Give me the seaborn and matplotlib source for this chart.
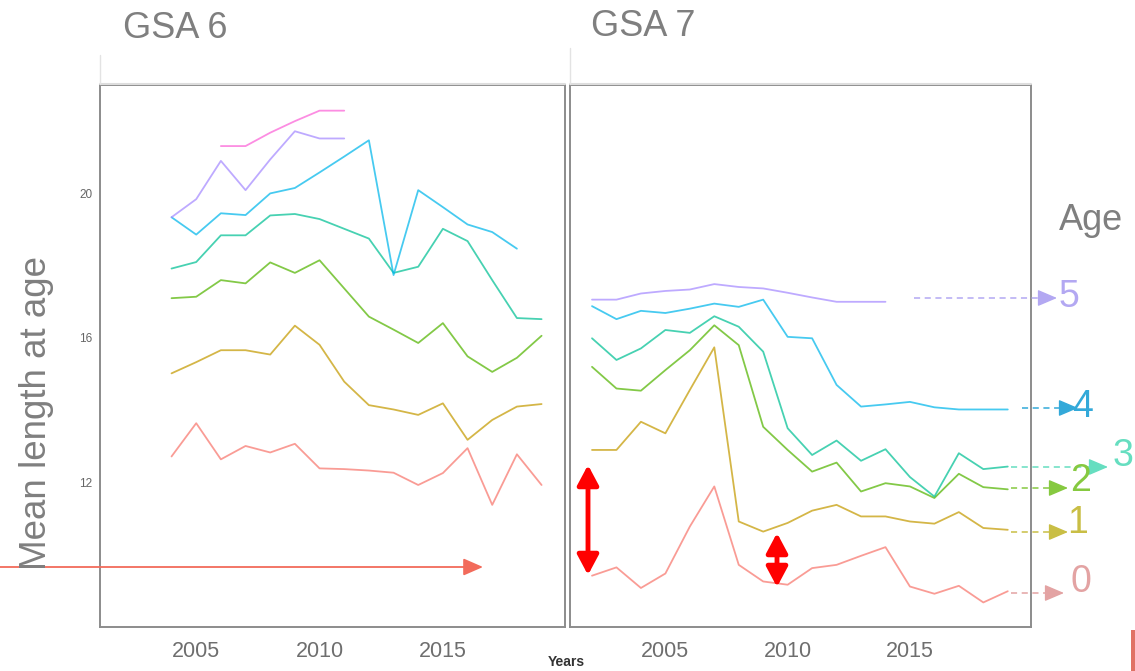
import numpy as np
import pandas as pd
import matplotlib
matplotlib.use("Agg")
import matplotlib.pyplot as plt
import seaborn as sns
from matplotlib.patches import FancyArrowPatch, Rectangle

# mean length at age
years_gsa6 = [2004, 2005, 2006, 2007, 2008, 2009, 2010, 2011,
              2012, 2013, 2014, 2015, 2016, 2017, 2018, 2019]
gsa6_age0 = [12.72, 13.64, 12.64, 13.01, 12.83, 13.07, 12.39, 12.37,
             12.33, 12.27, 11.93, 12.26, 12.95, 11.38, 12.78, 11.93]
gsa6_age1 = [15.02, 15.33, 15.66, 15.66, 15.54, 16.34, 15.81, 14.79,
             14.14, 14.02, 13.87, 14.19, 13.18, 13.73, 14.10, 14.17]
gsa6_age2 = [17.10, 17.14, 17.60, 17.51, 18.09, 17.80, 18.15, 17.37,
             16.59, 16.23, 15.86, 16.41, 15.49, 15.06, 15.45, 16.06]
gsa6_age3 = [17.92, 18.10, 18.84, 18.84, 19.39, 19.43, 19.29, 19.02,
             18.75, 17.80, 17.97, 19.02, 18.68, 17.60, 16.55, 16.52]
gsa6_age4 = [19.34, 18.86, 19.45, 19.40, 20.00, 20.15, 20.58, 21.02,
             21.47, 17.74, 20.09, 19.62, 19.14, 18.93, 18.47, None]
gsa6_age5 = [19.34, 19.84, 20.90, 20.09, 20.94, 21.72, 21.52, 21.52,
             None, None, None, None, None, None, None, None]
gsa6_age6 = [None, None, 21.31, 21.31, 21.68, 22.00, 22.29, 22.29,
             None, None, None, None, None, None, None, None]

years_gsa7 = [2002, 2003, 2004, 2005, 2006, 2007, 2008, 2009, 2010,
              2011, 2012, 2013, 2014, 2015, 2016, 2017, 2018, 2019]
gsa7_age0 = [9.42, 9.65, 9.08, 9.48, 10.78, 11.89, 9.72, 9.26, 9.17,
             9.63, 9.72, 9.97, 10.21, 9.12, 8.92, 9.14, 8.68, 8.99]
gsa7_age1 = [12.90, 12.90, 13.68, 13.36, 14.56, 15.74, 10.92, 10.64, 10.88,
             11.22, 11.38, 11.06, 11.06, 10.92, 10.86, 11.18, 10.74, 10.69]
gsa7_age2 = [15.20, 14.60, 14.54, 15.11, 15.66, 16.35, 15.80, 13.54, 12.90,
             12.30, 12.55, 11.75, 11.98, 11.89, 11.57, 12.24, 11.87, 11.81]
gsa7_age3 = [15.99, 15.39, 15.71, 16.22, 16.14, 16.60, 16.31, 15.62, 13.50,
             12.76, 13.16, 12.60, 12.92, 12.15, 11.61, 12.81, 12.37, 12.44]
gsa7_age4 = [16.88, 16.52, 16.75, 16.69, 16.81, 16.95, 16.86, 17.06, 16.03,
             15.99, 14.70, 14.10, 14.16, 14.23, 14.08, 14.02, 14.02, 14.02]
gsa7_age5 = [17.06, 17.06, 17.23, 17.30, 17.34, 17.49, 17.41, 17.37, 17.25,
             17.12, 17.00, 17.00, 17.00, None, None, None, None, None]

ages = ["0", "1", "2", "3", "4", "5", "6"]
age_colors = ["#F8766D", "#C49A00", "#53B400", "#00C094", "#00B6EB", "#A58AFF", "#FB61D7"]
label_ages = ["5", "4", "3", "2", "1", "0"]
label_colors = ["#B3A8F2", "#33A9D9", "#66DEC0", "#86C940", "#C9BE45", "#E3A3A3"]


def make_df(years, series):
    rows = []
    for age, vals in series.items():
        for y, v in zip(years, vals):
            if v is not None:
                rows.append({"Year": y, "Length": v, "Age": age})
    return pd.DataFrame(rows)


df6 = make_df(years_gsa6, {"0": gsa6_age0, "1": gsa6_age1, "2": gsa6_age2, "3": gsa6_age3,
                           "4": gsa6_age4, "5": gsa6_age5, "6": gsa6_age6})
df7 = make_df(years_gsa7, {"0": gsa7_age0, "1": gsa7_age1, "2": gsa7_age2, "3": gsa7_age3,
                           "4": gsa7_age4, "5": gsa7_age5})

sns.set_style("white")
plt.rcParams["font.family"] = ["Liberation Sans", "DejaVu Sans"]
pal = dict(zip(ages, age_colors))

fig = plt.figure(figsize=(11.35, 6.71), dpi=100)
ax6 = fig.add_axes([100 / 1135, 1 - 627 / 671, 465 / 1135, 542 / 671])
ax7 = fig.add_axes([570 / 1135, 1 - 627 / 671, 461 / 1135, 542 / 671])

for ax, df in [(ax6, df6), (ax7, df7)]:
    sns.lineplot(data=df, x="Year", y="Length", hue="Age", hue_order=ages,
                 palette=pal, errorbar=None, legend=False, lw=1.3, alpha=0.72, ax=ax)
    ax.set_xlim(2001.1, 2019.95)
    ax.set_ylim(8.0, 23.0)
    ax.set_xlabel("")
    ax.set_ylabel("")
    ax.set_xticks([2005, 2010, 2015])
    ax.tick_params(axis="x", length=3, color="#888888", labelsize=15.5,
                   labelcolor="#6E6E6E", pad=7)
    for s in ax.spines.values():
        s.set_color("#8C8C8C")
        s.set_linewidth(1.4)

ax6.set_yticks([12, 16, 20])
ax6.tick_params(axis="y", length=4, color="#555555", labelsize=8.5,
                labelcolor="#666666", pad=1.5)
ax7.set_yticks([])

# overlay in pixel coordinates for the hand-drawn annotations
ov = fig.add_axes([0, 0, 1, 1])
ov.set_xlim(0, 1135)
ov.set_ylim(671, 0)
ov.axis("off")
ov.patch.set_visible(False)

ov.text(123, 29, "GSA 6", fontsize=26, color="#7F7F7F", va="center", ha="left")
ov.text(591, 26, "GSA 7", fontsize=26, color="#7F7F7F", va="center", ha="left")
ov.text(37, 413, "Mean length at age", fontsize=26.5, color="#7F7F7F",
        rotation=90, va="center", ha="center")
ov.text(566, 662, "Years", fontsize=10, color="#333333", fontweight="bold",
        va="center", ha="center")
ov.text(1091, 220, "Age", fontsize=26, color="#7F7F7F", va="center", ha="center")

# faint strip remnants
ov.plot([100, 565], [84, 84], color="#DDDDDD", lw=1.5)
ov.plot([570, 1031], [84, 84], color="#DDDDDD", lw=1.5)
ov.plot([100, 100], [55, 84], color="#E3E3E3", lw=1)
ov.plot([570, 570], [48, 84], color="#E3E3E3", lw=1)

# coloured dashed arrows to the age labels
arrow_starts = [914, 1022, 1011, 1011, 1011, 1011]
arrow_ends = [1057, 1078, 1108, 1068, 1068, 1064]
arrow_ys = [298, 408, 467, 488, 532, 593]
label_xs = [1069, 1083, 1123, 1081, 1078, 1081]
label_ys = [297, 407, 456, 481, 523, 582]
for a, c, x0, x1, y, lx, ly in zip(label_ages, label_colors, arrow_starts, arrow_ends,
                                    arrow_ys, label_xs, label_ys):
    ov.plot([x0, x1 - 14], [y, y], color=c, lw=1.1, ls=(0, (4, 3)))
    ov.add_patch(FancyArrowPatch((x1 - 16, y), (x1, y), arrowstyle="-|>,head_length=0.75,head_width=0.32",
                                 mutation_scale=16, color=c, lw=1, shrinkA=0, shrinkB=0))
    ov.text(lx, ly, a, fontsize=27, color=c, va="center", ha="center")

# red double arrows on GSA 7
for x, y0, y1 in [(588, 465, 575), (777, 533, 587)]:
    ov.add_patch(FancyArrowPatch((x, y0), (x, y1), arrowstyle="<|-|>,head_length=0.6,head_width=0.32",
                                 mutation_scale=20, color="#FF0000", lw=3.5, shrinkA=0, shrinkB=0))

# salmon arrow on GSA 6
ov.add_patch(FancyArrowPatch((0, 567), (483, 567), arrowstyle="-|>,head_length=0.8,head_width=0.35",
                             mutation_scale=15, color="#F26B5B", lw=1.3, shrinkA=0, shrinkB=0))

ov.add_patch(Rectangle((1131, 630), 4, 41, color="#E07265", lw=0))

fig.savefig("out.png", dpi=100)
